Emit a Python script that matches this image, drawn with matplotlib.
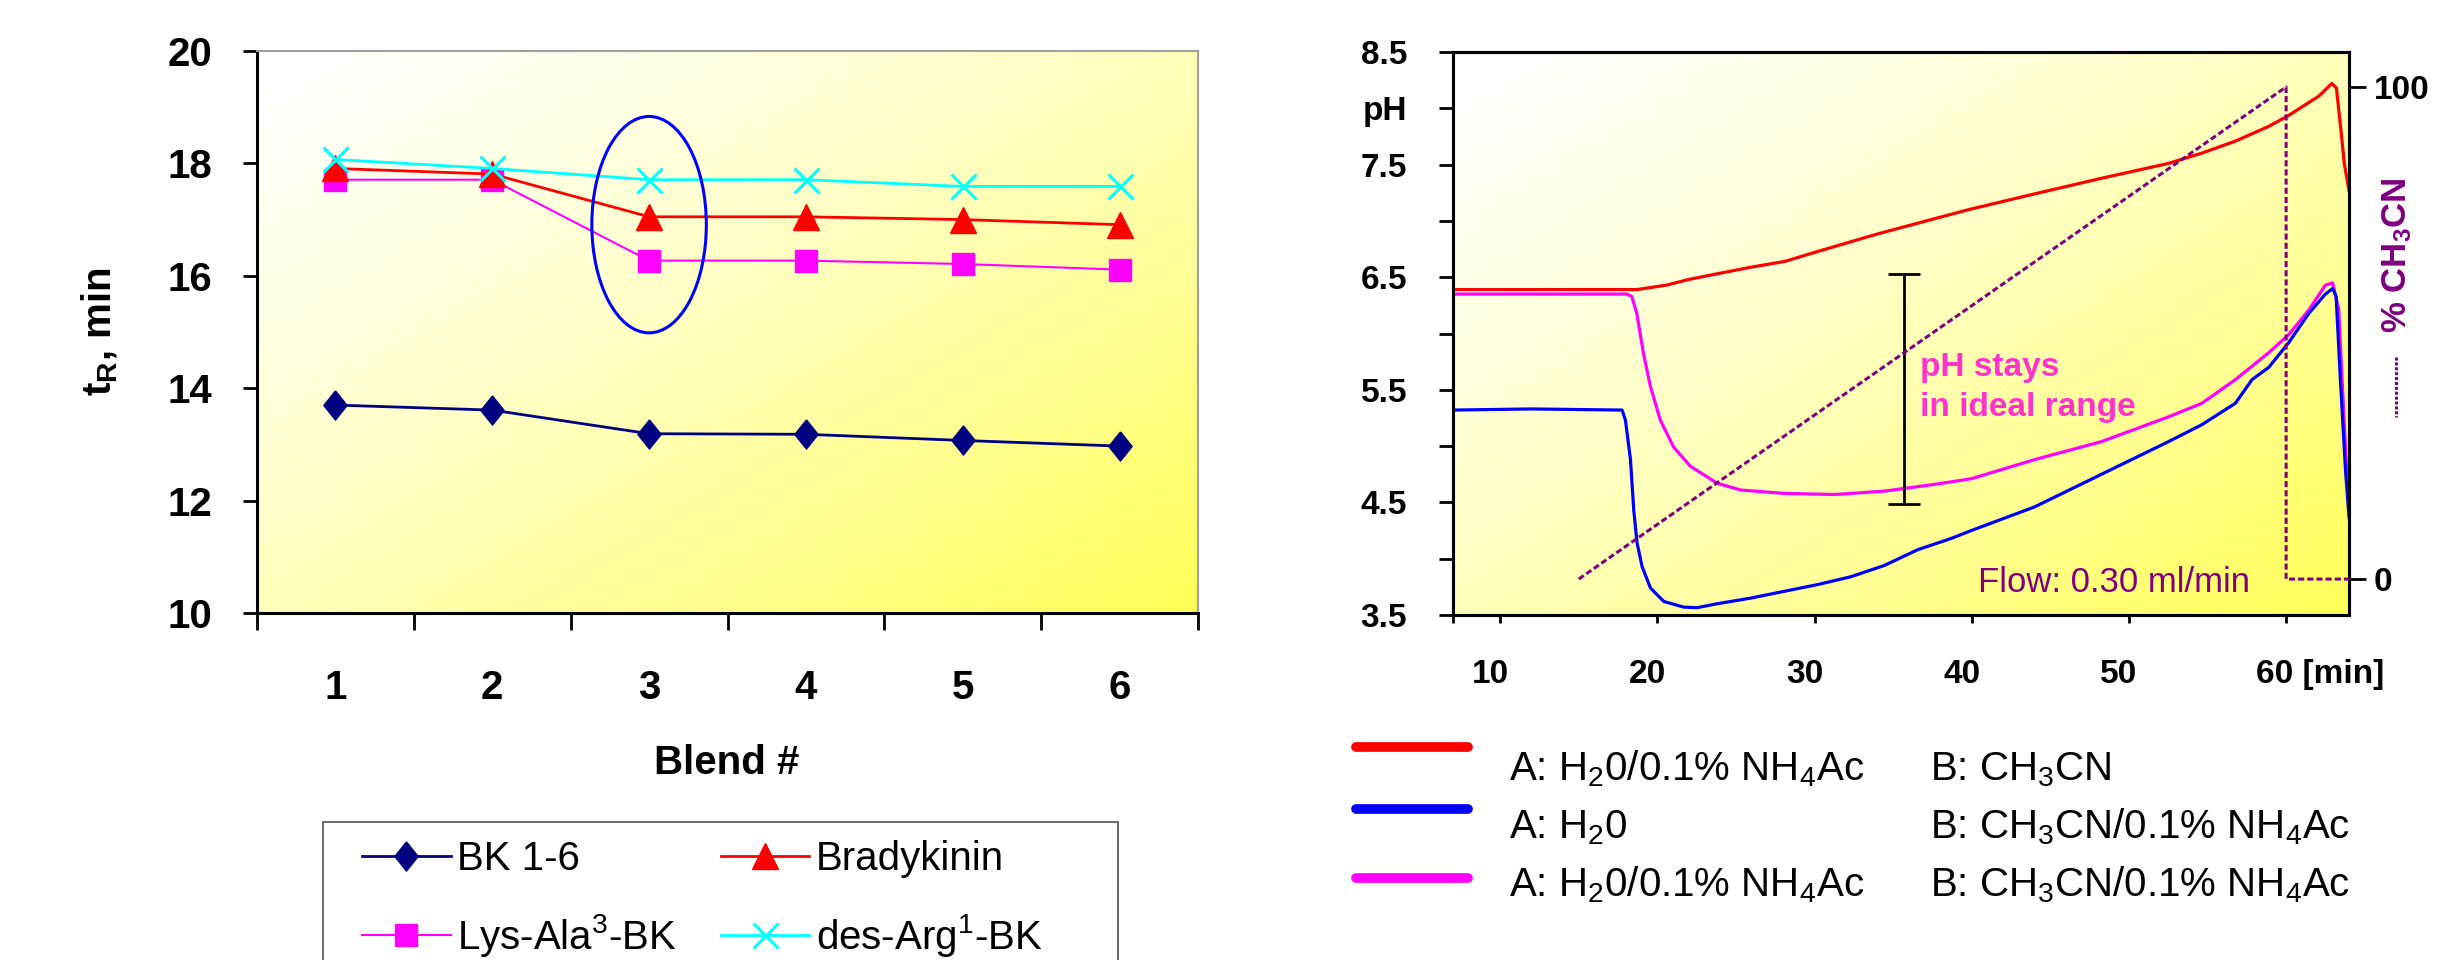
import numpy as np
import matplotlib
matplotlib.use("Agg")
import matplotlib.pyplot as plt
from matplotlib.patches import Ellipse, Rectangle
from matplotlib.lines import Line2D
from matplotlib.transforms import ScaledTranslation

plt.rcParams['font.family'] = ['Liberation Sans', 'DejaVu Sans']
plt.rcParams['mathtext.fontset'] = 'custom'
plt.rcParams['mathtext.rm'] = 'Liberation Sans'
plt.rcParams['mathtext.it'] = 'Liberation Sans:italic'
plt.rcParams['mathtext.bf'] = 'Liberation Sans:bold'

# ---- left panel: retention times per blend ----
blends = [1, 2, 3, 4, 5, 6]
bk16 = [13.70, 13.61, 13.19, 13.18, 13.07, 12.97]
bradykinin = [17.91, 17.81, 17.05, 17.05, 17.00, 16.91]
lys_ala3 = [17.71, 17.71, 16.27, 16.27, 16.21, 16.11]
des_arg1 = [18.07, 17.91, 17.71, 17.71, 17.59, 17.59]
left_yticks = [10, 12, 14, 16, 18, 20]

# ---- right panel: pH traces ----
red_t = [7, 12, 18.7, 20.6, 22.0, 23.8, 26.0, 28.1, 30.0, 33.9, 35.5, 39.8, 44.0,
         48.3, 52.5, 54.6, 56.8, 58.9, 60.2, 62.1, 62.9, 63.2, 63.5, 63.7, 64.0]
red_ph = [6.39, 6.39, 6.39, 6.43, 6.48, 6.53, 6.59, 6.64, 6.72, 6.88, 6.94, 7.10, 7.24,
          7.38, 7.51, 7.60, 7.71, 7.84, 7.94, 8.11, 8.22, 8.18, 7.79, 7.51, 7.27]

blue_t = [7, 12, 17.76, 17.97, 18.29, 18.5, 18.71, 19.03, 19.56, 20.41, 21.68, 22.53,
          23.81, 25.94, 28.06, 30.19, 32.32, 34.44, 36.57, 38.7, 39.97, 44.0, 48.26,
          52.52, 54.64, 56.77, 57.83, 58.9, 60.17, 61.45, 62.5, 62.96, 63.18, 63.46,
          63.78, 64.0]
blue_ph = [5.32, 5.33, 5.32, 5.23, 4.88, 4.43, 4.14, 3.93, 3.74, 3.62, 3.57, 3.565,
           3.60, 3.65, 3.71, 3.77, 3.84, 3.94, 4.08, 4.18, 4.25, 4.46, 4.75,
           5.04, 5.19, 5.38, 5.59, 5.70, 5.92, 6.18, 6.35, 6.40, 6.33, 5.57,
           4.78, 4.37]

mag_t = [7, 12, 18.05, 18.37, 18.69, 19.12, 19.56, 20.19, 21.04, 22.11, 23.81, 25.3,
         28.06, 31.25, 34.44, 37.63, 39.97, 44.0, 48.26, 52.52, 54.64, 56.77, 58.9,
         60.17, 61.45, 62.5, 62.96, 63.35, 63.57, 63.89, 64.0]
mag_ph = [6.35, 6.35, 6.35, 6.33, 6.18, 5.82, 5.53, 5.23, 4.99, 4.82, 4.67, 4.61,
          4.58, 4.57, 4.60, 4.66, 4.71, 4.88, 5.04, 5.26, 5.38, 5.59, 5.83,
          5.99, 6.21, 6.43, 6.45, 6.21, 5.57, 4.67, 4.67]

# gradient program, % CH3CN
grad_t = [15, 60, 60, 64]
grad_pct = [0, 100, 0, 0]

ph_ticks = [3.5, 4.0, 4.5, 5.0, 5.5, 6.0, 6.5, 7.0, 7.5, 8.0, 8.5]
ph_labels = ['3.5', '', '4.5', '', '5.5', '', '6.5', '', '7.5', 'pH', '8.5']
time_ticks = [7, 10, 20, 30, 40, 50, 60]
time_labels = ['', '10', '20', '30', '40', '50', '60 [min]']

range_bar = (35.7, 4.49, 6.53)   # x, low, high

W, H = 2445, 960
PURPLE = '#800080'


def fx(px):
    return px / W


def fy(py):
    return 1 - py / H


def gradient_bg(ax):
    xx, yy = np.meshgrid(np.linspace(0, 1, 400), np.linspace(0, 1, 400))
    t = ((xx + yy) / 2) ** 1.3
    img = np.ones((400, 400, 3))
    img[..., 2] = 1 - t * 0.66
    ax.imshow(img, extent=[0, 1, 0, 1], transform=ax.transAxes,
              aspect='auto', zorder=0, origin='upper')


fig = plt.figure(figsize=(W / 100, H / 100), dpi=100)

# legend box of the left panel (runs off the bottom edge)
fig.add_artist(Rectangle((fx(323), fy(990)), (1118 - 323) / W, (990 - 822) / H,
                         transform=fig.transFigure, facecolor='white',
                         edgecolor='#505050', lw=1.2, zorder=-1))

# ================= left panel =================
ax1 = fig.add_axes([fx(257), fy(613), (1198 - 257) / W, (613 - 51) / H])
gradient_bg(ax1)

diamond = [(0, 1), (0.8, 0), (0, -1), (-0.8, 0), (0, 1)]
l_bk, = ax1.plot(blends, bk16, color='#000080', lw=2, marker=diamond, ms=21,
                 label='BK 1-6', zorder=3)
l_lys, = ax1.plot(blends, lys_ala3, color='#FF00FF', lw=1.5, marker='s', ms=16,
                  label='Lys-Ala$^3$-BK', zorder=3)
l_br, = ax1.plot(blends, bradykinin, color='#FF0000', lw=2, marker='^', ms=19,
                 label='Bradykinin', zorder=3)
l_des, = ax1.plot(blends, des_arg1, color='#00FFFF', lw=2, marker='x', ms=18,
                  mew=2.2, label='des-Arg$^1$-BK', zorder=3)

ax1.add_patch(Ellipse((3, 16.91), width=0.73, height=3.85, fill=False,
                      edgecolor='#0000FF', lw=2.2, zorder=4))

ax1.set_xlim(0.5, 6.5)
ax1.set_ylim(10, 20)
ax1.set_xticks(np.arange(0.5, 7, 1))
ax1.set_xticklabels([])
ax1.set_xticks(blends, minor=True)
ax1.set_xticklabels([str(b) for b in blends], minor=True)
ax1.tick_params(axis='x', which='major', direction='out', length=12, width=2)
ax1.tick_params(axis='x', which='minor', length=0, pad=40, labelsize=29)
ax1.set_yticks(left_yticks)
ax1.tick_params(axis='y', direction='out', length=10, width=2, pad=22, labelsize=29)
for lab in ax1.get_xticklabels(minor=True) + ax1.get_yticklabels():
    lab.set_fontweight('bold')
for s in ['left', 'bottom']:
    ax1.spines[s].set_linewidth(2.2)
for s in ['top', 'right']:
    ax1.spines[s].set_color('#A0A0A0')
    ax1.spines[s].set_linewidth(1.5)

fig.text(fx(100), fy(332), 't$_\\mathbf{R}$, min', rotation=90, ha='center',
         va='center', fontsize=29, fontweight='bold')
fig.text(fx(727), fy(763), 'Blend #', ha='center', va='center',
         fontsize=29, fontweight='bold')

ax1.legend(handles=[l_bk, l_lys, l_br, l_des], ncol=2, loc='upper left',
           bbox_to_anchor=(fx(362), fy(840)), bbox_transform=fig.transFigure,
           frameon=False, fontsize=29, handlelength=2.2, handletextpad=0.15,
           columnspacing=1.1, labelspacing=0.85, borderpad=0, borderaxespad=0,
           numpoints=1)

# ================= right panel =================
ax2 = fig.add_axes([fx(1453), fy(615), (2349 - 1453) / W, (615 - 52) / H])
gradient_bg(ax2)
ax2.plot(red_t, red_ph, color='#FF0000', lw=2.3, zorder=3)
ax2.plot(mag_t, mag_ph, color='#FF00FF', lw=2.3, zorder=3)
ax2.plot(blue_t, blue_ph, color='#0000FF', lw=2.3, zorder=3)

bx, blo, bhi = range_bar
ax2.errorbar([bx], [(blo + bhi) / 2], yerr=[[(bhi - blo) / 2], [(bhi - blo) / 2]],
             fmt='none', ecolor='black', elinewidth=2, capsize=11.5, capthick=2,
             zorder=4)
ax2.text(36.7, 5.70, 'pH stays', color='#FF33CC', fontsize=24, fontweight='bold',
         ha='left', va='center', zorder=5)
ax2.text(36.7, 5.34, 'in ideal range', color='#FF33CC', fontsize=24,
         fontweight='bold', ha='left', va='center', zorder=5)
ax2.text(40.4, 3.79, 'Flow: 0.30 ml/min', color=PURPLE, fontsize=25,
         ha='left', va='center', zorder=5)

ax2.set_xlim(7, 64)
ax2.set_ylim(3.5, 8.5)
ax2.set_yticks(ph_ticks)
ax2.set_yticklabels(ph_labels)
ax2.set_xticks(time_ticks)
ax2.set_xticklabels(time_labels)
ax2.tick_params(axis='y', direction='out', length=10, width=2, pad=23, labelsize=24)
ax2.tick_params(axis='x', direction='out', length=6, width=2, pad=26, labelsize=24)
for lab in ax2.get_xticklabels() + ax2.get_yticklabels():
    lab.set_fontweight('bold')
shift = ScaledTranslation(-10 / 100, 0, fig.dpi_scale_trans)
for lab in ax2.get_xticklabels():
    lab.set_transform(lab.get_transform() + shift)
last = ax2.get_xticklabels()[-1]
last.set_horizontalalignment('left')
last.set_transform(last.get_transform() + ScaledTranslation(-20 / 100, 0, fig.dpi_scale_trans))
for s in ax2.spines.values():
    s.set_linewidth(2.2)

ax2r = ax2.twinx()
ax2r.plot(grad_t, grad_pct, color=PURPLE, lw=2.2, ls=(0, (2, 1)), zorder=3)
ax2r.set_ylim(-7.3, 107.1)
ax2r.set_yticks([0, 100])
ax2r.tick_params(axis='y', direction='out', length=12, width=2, pad=6, labelsize=24)
for lab in ax2r.get_yticklabels():
    lab.set_fontweight('bold')
for s in ax2r.spines.values():
    s.set_linewidth(2.2)

fig.text(fx(2397), fy(255), '% CH$_\\mathbf{3}$CN', rotation=90, ha='center',
         va='center', fontsize=25, fontweight='bold', color=PURPLE)
fig.add_artist(Line2D([fx(2396), fx(2396)], [fy(357), fy(417)],
                      transform=fig.transFigure, color=PURPLE, lw=2.2,
                      ls=(0, (1, 0.6))))

# ---- right legend (solvent systems) ----
leg_colors = ['#FF0000', '#0000FF', '#FF00FF']
leg_a = ['A: H$_2$0/0.1% NH$_4$Ac', 'A: H$_2$0', 'A: H$_2$0/0.1% NH$_4$Ac']
leg_b = ['B: CH$_3$CN', 'B: CH$_3$CN/0.1% NH$_4$Ac', 'B: CH$_3$CN/0.1% NH$_4$Ac']
line_y = [747, 809, 878]
text_y = [780, 838, 896]
for c, a, b, ly, ty in zip(leg_colors, leg_a, leg_b, line_y, text_y):
    fig.add_artist(Line2D([fx(1356), fx(1468)], [fy(ly), fy(ly)],
                          transform=fig.transFigure, color=c, lw=7,
                          solid_capstyle='round'))
    fig.text(fx(1509), fy(ty), a, fontsize=29, ha='left', va='baseline')
    fig.text(fx(1930), fy(ty), b, fontsize=29, ha='left', va='baseline')

fig.savefig('out.png', dpi=100)
